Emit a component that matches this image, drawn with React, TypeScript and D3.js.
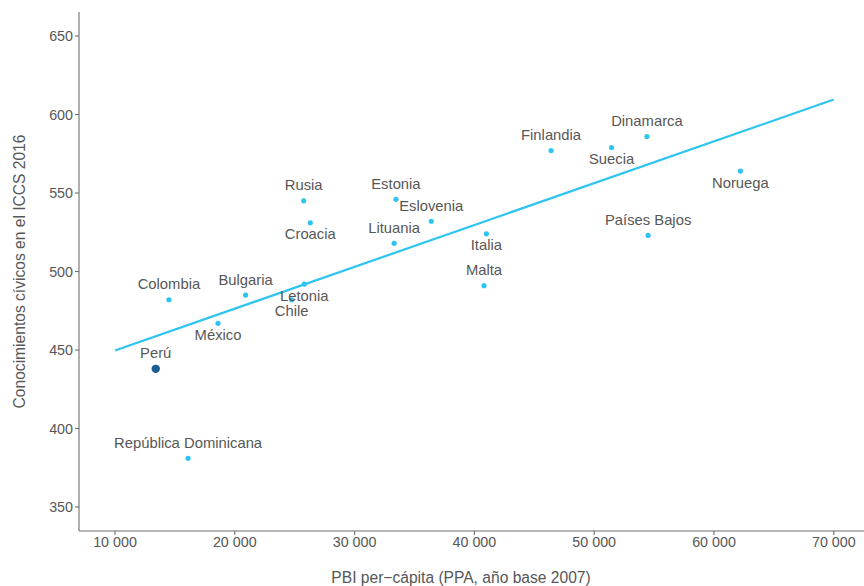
import React from "react";
import * as d3 from "d3";

// GDP per capita (PPP, base year 2007) and ICCS 2016 civic knowledge score
const countries = [
  "Colombia", "Bulgaria", "Letonia", "Chile", "México", "Perú",
  "República Dominicana", "Rusia", "Croacia", "Estonia", "Eslovenia",
  "Lituania", "Italia", "Malta", "Finlandia", "Suecia", "Dinamarca",
  "Noruega", "Países Bajos",
];
const gdp = [
  14500, 20900, 25800, 24750, 18600, 13400,
  16100, 25750, 26300, 33450, 36400,
  33300, 41000, 40800, 46400, 51450, 54400,
  62200, 54500,
];
const civic = [
  482, 485, 492, 482, 467, 438,
  381, 545, 531, 546, 532,
  518, 524, 491, 577, 579, 586,
  564, 523,
];
const highlighted = "Perú";

// Labels drawn beneath their point; all others sit above
const labelsBelow = ["Letonia", "Chile", "México", "Croacia", "Italia", "Suecia", "Noruega"];

const xTicks = [10000, 20000, 30000, 40000, 50000, 60000, 70000];
const yTicks = [350, 400, 450, 500, 550, 600, 650];
const fitRange = [10000, 70000];

const xTitle = "PBI per\u2212cápita (PPA, año base 2007)";
const yTitle = "Conocimientos cívicos en el ICCS 2016";

const W = 864;
const H = 586;
const left = 79;
const right = 864;
const top = 12;
const bottom = 531;

const FONT = "'Liberation Sans', Arial, Helvetica, sans-serif";
const TEXT = "#575757";
const AXIS = "#6e6e6e";
const POINT = "#2ec4f1";
const HIGHLIGHT = "#1b5e96";

const fmt = (v: number) => d3.format(",")(v).replace(/,/g, " ");

export default function App() {
  const x = d3.scaleLinear().domain([6995, 72520]).range([left, right]);
  const y = d3.scaleLinear().domain([334.7, 665.3]).range([bottom, top]);

  // Least-squares fit of score on GDP
  const mx = d3.mean(gdp) as number;
  const my = d3.mean(civic) as number;
  const sxy = d3.sum(gdp, (g, i) => (g - mx) * (civic[i] - my));
  const sxx = d3.sum(gdp, (g) => (g - mx) * (g - mx));
  const slope = sxy / sxx;
  const intercept = my - slope * mx;
  const fitLine = d3
    .line<number>()
    .x((v) => x(v))
    .y((v) => y(intercept + slope * v));

  const pts = countries.map((name, i) => ({ name, gx: gdp[i], cy: civic[i] }));

  return (
    <svg
      width={W}
      height={H}
      viewBox={`0 0 ${W} ${H}`}
      style={{ display: "block", position: "absolute", left: 0, top: 0, background: "#fff" }}
      fontFamily={FONT}
    >
      {/* axes */}
      <line x1={left} x2={left} y1={top} y2={bottom} stroke={AXIS} strokeWidth={1.1} />
      <line x1={left} x2={right} y1={bottom} y2={bottom} stroke={AXIS} strokeWidth={1.1} />

      {yTicks.map((t) => (
        <g key={`y${t}`}>
          <line x1={left - 4} x2={left} y1={y(t)} y2={y(t)} stroke={AXIS} strokeWidth={1.1} />
          <text
            x={left - 6}
            y={y(t)}
            dy="0.36em"
            textAnchor="end"
            fontSize={14.3}
            fill={TEXT}
          >
            {t}
          </text>
        </g>
      ))}

      {xTicks.map((t) => (
        <g key={`x${t}`}>
          <line x1={x(t)} x2={x(t)} y1={bottom} y2={bottom + 4} stroke={AXIS} strokeWidth={1.1} />
          <text x={x(t)} y={bottom + 15.5} textAnchor="middle" fontSize={14.3} fill={TEXT}>
            {fmt(t)}
          </text>
        </g>
      ))}

      {/* regression line */}
      <path d={fitLine(fitRange) as string} fill="none" stroke={POINT} strokeWidth={2.2} />

      {/* points */}
      {pts.map((p) => (
        <circle
          key={`p${p.name}`}
          cx={x(p.gx)}
          cy={y(p.cy)}
          r={p.name === highlighted ? 4.2 : 2.6}
          fill={p.name === highlighted ? HIGHLIGHT : POINT}
        />
      ))}

      {/* labels */}
      {pts.map((p) => {
        const below = labelsBelow.includes(p.name);
        return (
          <text
            key={`l${p.name}`}
            x={x(p.gx)}
            y={y(p.cy) + (below ? 16.5 : -10.5)}
            textAnchor="middle"
            fontSize={14.8}
            fill={TEXT}
          >
            {p.name}
          </text>
        );
      })}

      {/* axis titles */}
      <text x={461} y={583} textAnchor="middle" fontSize={15.6} fill={TEXT}>
        {xTitle}
      </text>
      <text
        transform={`translate(25, ${(top + bottom) / 2}) rotate(-90)`}
        textAnchor="middle"
        fontSize={15.6}
        fill={TEXT}
      >
        {yTitle}
      </text>
    </svg>
  );
}
